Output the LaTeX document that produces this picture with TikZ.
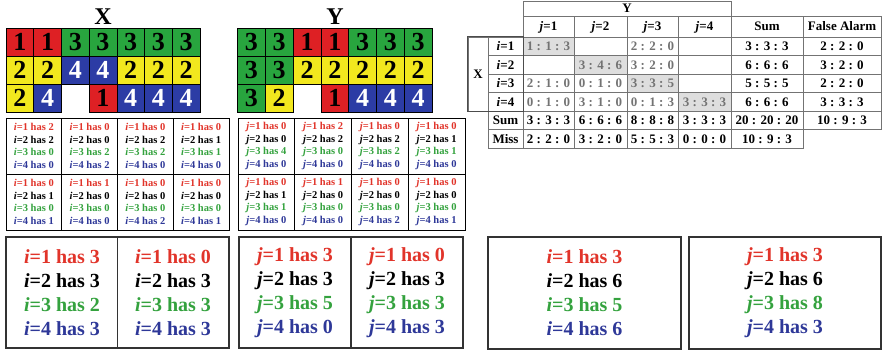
\documentclass[tikz,border=0pt]{standalone}
\usepackage{fontspec}
\setmainfont{Liberation Serif}
\definecolor{cR}{RGB}{222,32,36}
\definecolor{cG}{RGB}{40,165,62}
\definecolor{cY}{RGB}{242,232,30}
\definecolor{cB}{RGB}{44,60,165}
\definecolor{c1}{RGB}{225,52,42}
\colorlet{c2}{black}
\definecolor{c3}{RGB}{52,162,62}
\definecolor{c4}{RGB}{46,56,152}
\definecolor{shade}{RGB}{222,222,222}
\newcommand{\hasln}[3]{\textcolor{c#2}{\textit{#1}=#2 has #3}}
\newcommand{\fourl}[5]{\hasln{#1}{1}{#2}\\\hasln{#1}{2}{#3}\\\hasln{#1}{3}{#4}\\\hasln{#1}{4}{#5}}
\newcommand{\tcell}[7]{\node[tcell,#6,minimum width={#4-#2},minimum height={#5-#3}] (#1) at ({(#2+#4)/2},{(#3+#5)/2}) {#7};}
\begin{document}
\begin{tikzpicture}[x=1pt,y=-1pt,
  bigcell/.style={draw=black,line width=0.6pt,minimum width=27.7pt,minimum height=28pt,inner sep=0pt,font=\fontsize{26}{26}\selectfont\bfseries},
  biglabel/.style={font=\fontsize{24}{24}\selectfont\bfseries,inner sep=0pt},
  smcell/.style={draw=black,line width=0.9pt,minimum height=56pt,inner sep=0pt,align=center,font=\fontsize{10.5}{12.5}\selectfont\bfseries},
  boxframe/.style={draw=black!80,line width=1.2pt,inner sep=0pt},
  boxtext/.style={align=center,inner sep=0pt,font=\fontsize{20}{24}\selectfont\bfseries},
  tcell/.style={draw=black!55,line width=0.8pt,inner sep=0pt,text height=9pt,text depth=0pt,font=\fontsize{13}{13}\selectfont\bfseries},
  dat/.style={text=black!55},
  sh/.style={fill=shade}]
\useasboundingbox (0,0) rectangle (884,352);
% ---- big grids ----
\node[biglabel] (Xlab) at (103,17) {X};
\node[biglabel] (Ylab) at (335,17) {Y};
\foreach \cl/\rw/\f/\t/\n in {1/1/cR/black/1,2/1/cR/black/1,3/1/cG/black/3,4/1/cG/black/3,5/1/cG/black/3,6/1/cG/black/3,7/1/cG/black/3,
  1/2/cY/black/2,2/2/cY/black/2,3/2/cB/white/4,4/2/cB/white/4,5/2/cY/black/2,6/2/cY/black/2,7/2/cY/black/2,
  1/3/cY/black/2,2/3/cB/white/4,4/3/cR/black/1,5/3/cB/white/4,6/3/cB/white/4,7/3/cB/white/4}
  \node[bigcell,fill=\f,text=\t] (X\rw\cl) at ({6+27.7*(\cl-0.5)},{28+28*(\rw-0.5)}) {\n};
\foreach \cl/\rw/\f/\t/\n in {1/1/cG/black/3,2/1/cG/black/3,3/1/cR/black/1,4/1/cR/black/1,5/1/cG/black/3,6/1/cG/black/3,7/1/cG/black/3,
  1/2/cG/black/3,2/2/cG/black/3,3/2/cY/black/2,4/2/cY/black/2,5/2/cY/black/2,6/2/cY/black/2,7/2/cY/black/2,
  1/3/cG/black/3,2/3/cY/black/2,4/3/cR/black/1,5/3/cB/white/4,6/3/cB/white/4,7/3/cB/white/4}
  \node[bigcell,fill=\f,text=\t] (Y\rw\cl) at ({237.5+27.8*(\cl-0.5)},{28+28*(\rw-0.5)}) {\n};
% ---- small grids ----
\foreach \ra/\ca/\pa/\pb/\pc/\pd in {1/1/2/2/0/0,1/2/0/0/2/2,1/3/0/2/2/0,1/4/0/1/1/0,
  2/1/0/1/0/1,2/2/1/0/0/0,2/3/0/0/0/2,2/4/0/0/0/1}
  \node[smcell,minimum width=55.75pt] (xs\ra\ca) at ({6+55.75*(\ca-0.5)},{118+56*(\ra-0.5)}) {\fourl{i}{\pa}{\pb}{\pc}{\pd}};
\foreach \ra/\ca/\pa/\pb/\pc/\pd in {1/1/0/0/4/0,1/2/2/2/0/0,1/3/0/2/2/0,1/4/0/1/1/0,
  2/1/0/1/1/0,2/2/1/0/0/0,2/3/0/0/0/2,2/4/0/0/0/1}
  \node[smcell,minimum width=56.75pt] (ys\ra\ca) at ({238+56.75*(\ca-0.5)},{118+56*(\ra-0.5)}) {\fourl{j}{\pa}{\pb}{\pc}{\pd}};
% ---- bottom boxes ----
\node[boxframe,minimum width=223pt,minimum height=111pt] (b1) at (117.5,292.5) {};
\draw[black!80,line width=1.2pt] (b1.north) -- (b1.south);
\node[boxtext] (b1l) at (62,293) {\fourl{i}{3}{3}{2}{3}};
\node[boxtext] (b1r) at (173,293) {\fourl{i}{0}{3}{3}{3}};
\node[boxframe,minimum width=224pt,minimum height=111pt] (b2) at (351,292.5) {};
\draw[black!80,line width=1.2pt] (b2.north) -- (b2.south);
\node[boxtext] (b2l) at (295,293) {\fourl{j}{3}{3}{5}{0}};
\node[boxtext] (b2r) at (407,293) {\fourl{j}{0}{3}{3}{3}};
\node[boxframe,minimum width=193pt,minimum height=112pt] (b3) at (584.5,293) {};
\node[boxtext] (b3t) at (b3.center) {\fourl{i}{3}{6}{5}{6}};
\node[boxframe,minimum width=192pt,minimum height=112pt] (b4) at (785,293) {};
\node[boxtext] (b4t) at (b4.center) {\fourl{j}{3}{6}{8}{3}};
% ---- table ----
\tcell{ty}{523}{1}{731}{16}{}{Y}
\tcell{tj1}{523}{16}{574}{37}{}{\textit{j}=1}
\tcell{tj2}{574}{16}{627}{37}{}{\textit{j}=2}
\tcell{tj3}{627}{16}{678}{37}{}{\textit{j}=3}
\tcell{tj4}{678}{16}{731}{37}{}{\textit{j}=4}
\tcell{tsum}{731}{16}{803}{37}{}{Sum}
\tcell{tfa}{803}{16}{881}{37}{}{False Alarm}
\tcell{tx}{468}{37}{488}{111}{}{X}
\tcell{ti1}{488}{37}{523}{55.5}{}{\textit{i}=1}
\tcell{ti2}{488}{55.5}{523}{74}{}{\textit{i}=2}
\tcell{ti3}{488}{74}{523}{92.5}{}{\textit{i}=3}
\tcell{ti4}{488}{92.5}{523}{111}{}{\textit{i}=4}
\tcell{tsr}{488}{111}{523}{129.5}{}{Sum}
\tcell{tmr}{488}{129.5}{523}{148}{}{Miss}
% row i=1
\tcell{d11}{523}{37}{574}{55.5}{dat,sh}{1 : 1 : 3}
\tcell{d12}{574}{37}{627}{55.5}{dat}{}
\tcell{d13}{627}{37}{678}{55.5}{dat}{2 : 2 : 0}
\tcell{d14}{678}{37}{731}{55.5}{dat}{}
\tcell{d15}{731}{37}{803}{55.5}{}{3 : 3 : 3}
\tcell{d16}{803}{37}{881}{55.5}{}{2 : 2 : 0}
% row i=2
\tcell{d21}{523}{55.5}{574}{74}{dat}{}
\tcell{d22}{574}{55.5}{627}{74}{dat,sh}{3 : 4 : 6}
\tcell{d23}{627}{55.5}{678}{74}{dat}{3 : 2 : 0}
\tcell{d24}{678}{55.5}{731}{74}{dat}{}
\tcell{d25}{731}{55.5}{803}{74}{}{6 : 6 : 6}
\tcell{d26}{803}{55.5}{881}{74}{}{3 : 2 : 0}
% row i=3
\tcell{d31}{523}{74}{574}{92.5}{dat}{2 : 1 : 0}
\tcell{d32}{574}{74}{627}{92.5}{dat}{0 : 1 : 0}
\tcell{d33}{627}{74}{678}{92.5}{dat,sh}{3 : 3 : 5}
\tcell{d34}{678}{74}{731}{92.5}{dat}{}
\tcell{d35}{731}{74}{803}{92.5}{}{5 : 5 : 5}
\tcell{d36}{803}{74}{881}{92.5}{}{2 : 2 : 0}
% row i=4
\tcell{d41}{523}{92.5}{574}{111}{dat}{0 : 1 : 0}
\tcell{d42}{574}{92.5}{627}{111}{dat}{3 : 1 : 0}
\tcell{d43}{627}{92.5}{678}{111}{dat}{0 : 1 : 3}
\tcell{d44}{678}{92.5}{731}{111}{dat,sh}{3 : 3 : 3}
\tcell{d45}{731}{92.5}{803}{111}{}{6 : 6 : 6}
\tcell{d46}{803}{92.5}{881}{111}{}{3 : 3 : 3}
% Sum row
\tcell{s1}{523}{111}{574}{129.5}{}{3 : 3 : 3}
\tcell{s2}{574}{111}{627}{129.5}{}{6 : 6 : 6}
\tcell{s3}{627}{111}{678}{129.5}{}{8 : 8 : 8}
\tcell{s4}{678}{111}{731}{129.5}{}{3 : 3 : 3}
\tcell{s5}{731}{111}{803}{129.5}{}{20 : 20 : 20}
\tcell{s6}{803}{111}{881}{129.5}{}{10 : 9 : 3}
% Miss row
\tcell{m1}{523}{129.5}{574}{148}{}{2 : 2 : 0}
\tcell{m2}{574}{129.5}{627}{148}{}{3 : 2 : 0}
\tcell{m3}{627}{129.5}{678}{148}{}{5 : 5 : 3}
\tcell{m4}{678}{129.5}{731}{148}{}{0 : 0 : 0}
\tcell{m5}{731}{129.5}{803}{148}{}{10 : 9 : 3}
% darker outline of the X block
\draw[black!70,line width=0.9pt] (tx.north west) rectangle (ti4.south east);
\end{tikzpicture}
\end{document}
